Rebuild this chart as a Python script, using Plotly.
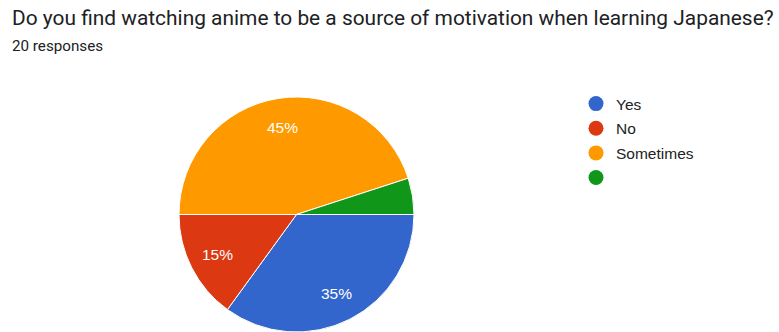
import math
import plotly.graph_objects as go

categories = ["Yes", "No", "Sometimes", ""]
counts = [7, 3, 9, 1]
colors = ["#3366cc", "#dc3912", "#ff9900", "#109618"]
show_label = [True, True, True, False]

title = "Do you find watching anime to be a source of motivation when learning Japanese?"
subtitle = "20 responses"

W, H = 779, 332
dom_x = [179 / W, 414 / W]
dom_y = [0, 1 - 97 / H]

fig = go.Figure()
fig.add_trace(go.Pie(
    labels=[c if c else " " for c in categories],
    values=counts,
    textinfo="none",
    sort=False,
    direction="clockwise",
    rotation=90,
    marker=dict(colors=colors, line=dict(color="white", width=1)),
    showlegend=False,
    hoverinfo="skip",
    domain=dict(x=dom_x, y=dom_y),
))

# percentage labels placed along each slice's mid-angle (Google Charts style)
total = sum(counts)
cx_px = (dom_x[0] + dom_x[1]) / 2 * W
cy_px = H - (dom_y[0] + dom_y[1]) / 2 * H
R_px = min((dom_x[1] - dom_x[0]) * W, (dom_y[1] - dom_y[0]) * H) / 2
annotations = []
start = 0.0
for v, show in zip(counts, show_label):
    frac = v / total
    mid = (start + frac / 2) * 2 * math.pi  # clockwise from 3 o'clock
    start += frac
    if not show:
        continue
    px = cx_px + 0.75 * R_px * math.cos(mid)
    py = cy_px + 0.75 * R_px * math.sin(mid)
    annotations.append(dict(
        text=f"{round(frac * 100)}%", x=px / W, y=1 - py / H,
        xref="paper", yref="paper", xanchor="center", yanchor="middle",
        showarrow=False,
        font=dict(family="Arial, Liberation Sans, sans-serif", size=15.5, color="white"),
    ))

for i, (c, col) in enumerate(zip(categories, colors)):
    fig.add_trace(go.Scatter(
        x=[None], y=[None], mode="markers", name=c,
        marker=dict(color=col, size=15, symbol="circle"),
        legendgroup=f"g{i}", showlegend=True,
    ))

annotations += [
    dict(text=title, x=10 / W, y=1 - 4 / H, xref="paper", yref="paper",
         xanchor="left", yanchor="top", showarrow=False,
         font=dict(family="Roboto, sans-serif", size=20.9, color="#202124")),
    dict(text=subtitle, x=10 / W, y=1 - 35 / H, xref="paper", yref="paper",
         xanchor="left", yanchor="top", showarrow=False,
         font=dict(family="Roboto, sans-serif", size=15.2, color="#202124")),
]

fig.update_layout(
    width=W, height=H,
    margin=dict(l=0, r=0, t=0, b=0),
    paper_bgcolor="white", plot_bgcolor="white",
    xaxis=dict(visible=False), yaxis=dict(visible=False),
    legend=dict(
        x=576 / W, y=1 - 87 / H, xanchor="left", yanchor="top",
        font=dict(family="Arial, Liberation Sans, sans-serif", size=15.5, color="#222222"),
        tracegroupgap=1.5, itemwidth=30,
    ),
    annotations=annotations,
)

fig.write_html("out.html")
